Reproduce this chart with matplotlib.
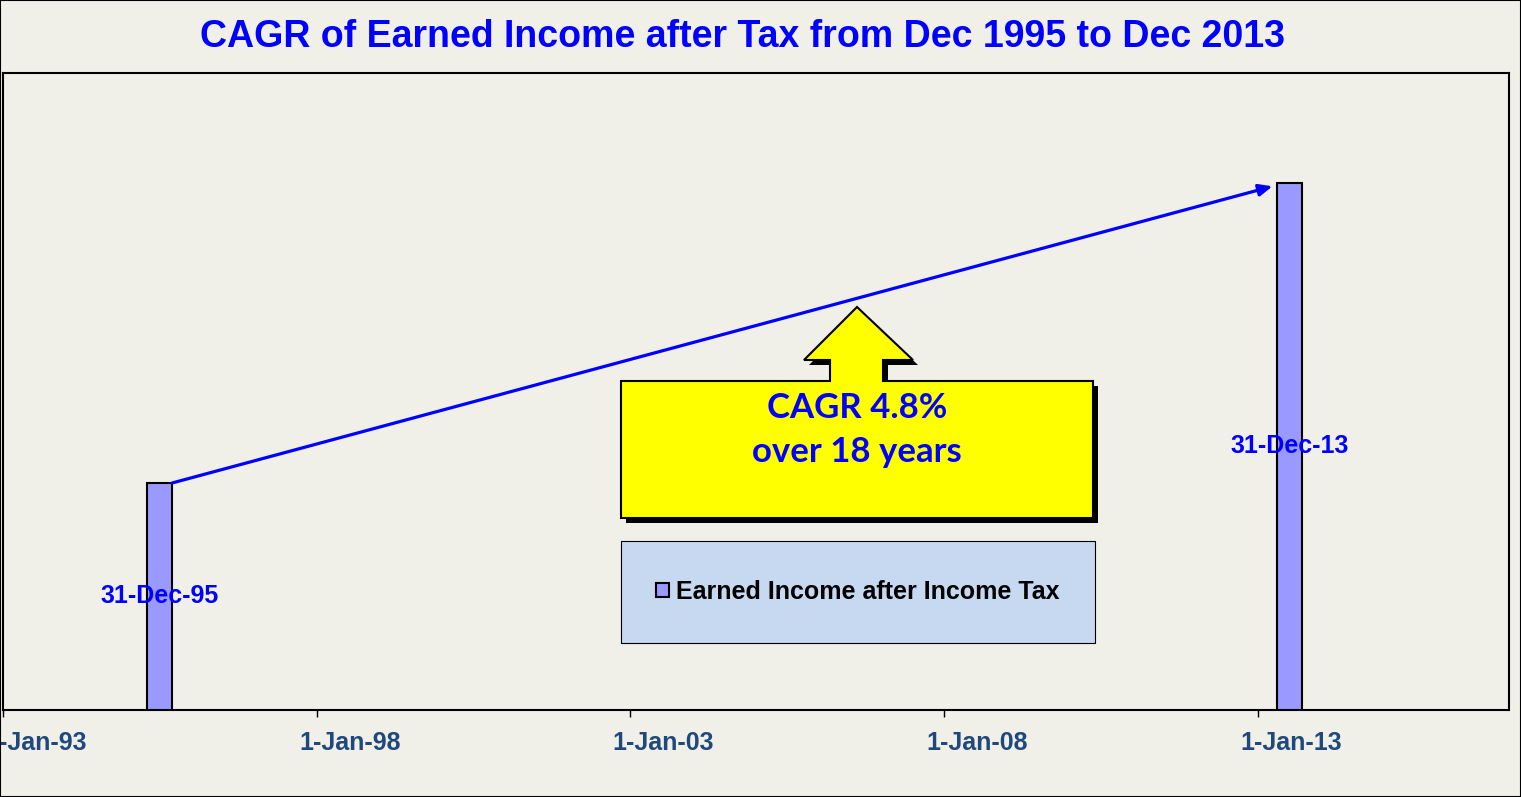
import datetime as dt
import matplotlib
matplotlib.use("Agg")
import matplotlib.pyplot as plt
import matplotlib.dates as mdates
import matplotlib.patheffects as pe
import matplotlib.transforms as mtransforms
from matplotlib.patches import Polygon, Rectangle

# data (no y scale shown, so values are an index, 1995 = 100)
dates = [dt.datetime(1995, 12, 31), dt.datetime(2013, 12, 31)]
date_labels = ["31-Dec-95", "31-Dec-13"]
income = [100.0, 232.2]
series_name = "Earned Income after Income Tax"
cagr_text = "CAGR 4.8%\nover 18 years"
title = "CAGR of Earned Income after Tax from Dec 1995 to Dec 2013"
tick_years = [1993, 1998, 2003, 2008, 2013]

BG = "#F0F0E9"
BAR = "#9999FF"
BLUE = "#0000FF"
TICKC = "#1F497D"

W, H = 1521, 797
fig = plt.figure(figsize=(W / 100, H / 100), dpi=100, facecolor=BG)
ax = fig.add_axes([3 / W, (H - 710) / H, 1506 / W, 637 / H], facecolor=BG)

# Excel draws the bars about half a year left of the date
shift = dt.timedelta(days=182)
bar_w = dt.timedelta(days=145)
xs = [d - shift for d in dates]
bars = ax.bar(xs, income, width=bar_w, color=BAR, edgecolor="black",
              linewidth=1.5, label=series_name, zorder=3)

for x, v, lab in zip(xs, income, date_labels):
    ax.text(x, v / 2, lab, ha="center", va="center", color=BLUE,
            fontsize=18, fontweight="bold", family="Liberation Sans", zorder=5)

# growth arrow from top of first bar to top of last bar
half = bar_w / 2
ax.annotate("", xy=(xs[1] - half - dt.timedelta(days=25), income[1] - 1.5),
            xytext=(xs[0] + half, income[0]),
            arrowprops=dict(arrowstyle="-|>,head_length=0.8,head_width=0.35",
                            color=BLUE, lw=2.3, shrinkA=0, shrinkB=0),
            zorder=4)

ax.set_xlim(dt.datetime(1993, 1, 1), dt.datetime(2017, 1, 1))
ax.set_ylim(0, 280.6)
ax.set_xticks([dt.datetime(y, 1, 1) for y in tick_years])
ax.xaxis.set_major_formatter(mdates.DateFormatter("1-Jan-%y"))
ax.set_yticks([])
ax.tick_params(axis="x", direction="out", length=5, width=1, pad=10,
               labelsize=18, labelcolor=TICKC)
# labels sit about a third of an inch right of their ticks, as in the original
offset = mtransforms.ScaledTranslation(0.33, 0, fig.dpi_scale_trans)
for lab in ax.get_xticklabels():
    lab.set_fontweight("bold")
    lab.set_family("Liberation Sans")
    lab.set_transform(lab.get_transform() + offset)
for sp in ax.spines.values():
    sp.set_linewidth(1.5)

# yellow callout with up arrow
def px(x, y):
    return ((x - 3) / 1506, (710 - y) / 637)

callout = [px(621, 518), px(1093, 518), px(1093, 381), px(883, 381),
           px(883, 360), px(913, 360), px(857, 307), px(804, 360),
           px(830, 360), px(830, 381), px(621, 381)]
poly = Polygon(callout, closed=True, facecolor="#FFFF00", edgecolor="black",
               linewidth=1.5, transform=ax.transAxes, zorder=6,
               path_effects=[pe.SimplePatchShadow(offset=(3.6, -3.6),
                                                  shadow_rgbFace="black", alpha=1),
                             pe.Normal()])
ax.add_patch(poly)
cx, cy = px(857, 430)
ax.text(cx, cy, cagr_text, transform=ax.transAxes, ha="center", va="center",
        color=BLUE, fontsize=25, fontweight="bold", family="Lato",
        linespacing=1.45, zorder=7)

# legend panel
lx0, ly0 = px(621, 643)
lx1, ly1 = px(1095, 541)
ax.add_patch(Rectangle((lx0, ly0), lx1 - lx0, ly1 - ly0, transform=ax.transAxes,
                       facecolor="#C6D9F1", edgecolor="black", linewidth=0.8,
                       zorder=6))
leg = ax.legend(loc="center", bbox_to_anchor=((lx0 + lx1) / 2, (ly0 + ly1) / 2),
                frameon=False, handlelength=0.5, handleheight=0.5,
                handletextpad=0.3, prop=dict(family="Liberation Sans",
                                             weight="bold", size=18))
leg.set_zorder(7)

fig.text(742 / W, 1 - 37 / H, title, ha="center", va="center", color=BLUE,
         fontsize=27, fontweight="bold", family="Liberation Sans")

fig.patches.append(Rectangle((0, 0), 1, 1, transform=fig.transFigure,
                             fill=False, edgecolor="black", linewidth=1.5))

fig.savefig("out.png", dpi=100, facecolor=BG)
